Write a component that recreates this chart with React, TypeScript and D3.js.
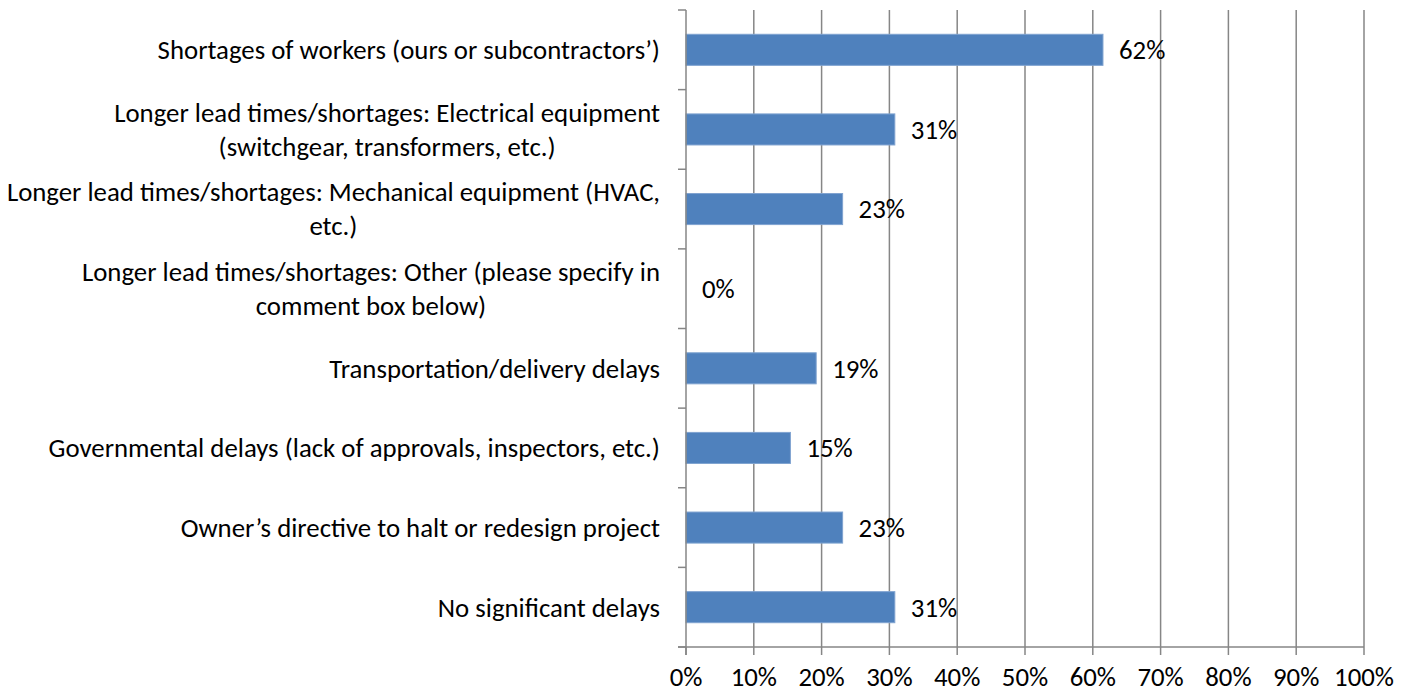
import { useEffect, useRef } from 'react';
import * as d3 from 'd3';

// delay causes (share of respondents, %)
const categories = [
  ['Shortages of workers (ours or subcontractors’)'],
  ['Longer lead times/shortages: Electrical equipment', '(switchgear, transformers, etc.)'],
  ['Longer lead times/shortages: Mechanical equipment (HVAC,', 'etc.)'],
  ['Longer lead times/shortages: Other (please specify in', 'comment box below)'],
  ['Transportation/delivery delays'],
  ['Governmental delays (lack of approvals, inspectors, etc.)'],
  ['Owner’s directive to halt or redesign project'],
  ['No significant delays'],
];
const values = [61.5, 30.8, 23.1, 0, 19.2, 15.4, 23.1, 30.8];
const xTicks = [0, 10, 20, 30, 40, 50, 60, 70, 80, 90, 100];

const WIDTH = 1409;
const HEIGHT = 694;
const FONT = 'Carlito, Calibri, Lato, sans-serif';

export default function App() {
  const svgRef = useRef<SVGSVGElement>(null);

  useEffect(() => {
    if (!svgRef.current) return;
    const svg = d3.select(svgRef.current);
    svg.selectAll('*').remove();

    const left = 686;
    const right = 1364;
    const top = 10;
    const bottom = 647;
    const axisColor = '#868686';
    const fs = 26.8;
    const tick = 8;

    const x = d3.scaleLinear().domain([0, 100]).range([left, right]);
    const y = d3
      .scaleBand<number>()
      .domain(d3.range(categories.length))
      .range([top, bottom])
      .paddingInner(0.61)
      .paddingOuter(0.305);
    const step = (bottom - top) / categories.length;

    // vertical gridlines
    svg
      .append('g')
      .selectAll('line')
      .data(xTicks.filter((d) => d > 0))
      .enter()
      .append('line')
      .attr('x1', (d) => x(d))
      .attr('x2', (d) => x(d))
      .attr('y1', top)
      .attr('y2', bottom)
      .attr('stroke', axisColor)
      .attr('stroke-width', 1.5);

    // bars
    svg
      .append('g')
      .selectAll('rect')
      .data(values)
      .enter()
      .append('rect')
      .attr('x', x(0))
      .attr('y', (_, i) => y(i)!)
      .attr('width', (d) => x(d) - x(0))
      .attr('height', y.bandwidth())
      .attr('fill', '#4F81BD')
      .attr('stroke', '#7FA3D0')
      .attr('stroke-width', (d) => (d > 0 ? 1 : 0));

    // axes
    const axes = svg.append('g').attr('stroke', axisColor).attr('stroke-width', 1.5);
    axes.append('line').attr('x1', left).attr('x2', left).attr('y1', top).attr('y2', bottom + tick);
    axes.append('line').attr('x1', left - tick).attr('x2', right).attr('y1', bottom).attr('y2', bottom);
    axes
      .selectAll('.ytick')
      .data(d3.range(categories.length + 1))
      .enter()
      .append('line')
      .attr('x1', left - tick)
      .attr('x2', left)
      .attr('y1', (i) => top + i * step)
      .attr('y2', (i) => top + i * step);
    axes
      .selectAll('.xtick')
      .data(xTicks)
      .enter()
      .append('line')
      .attr('x1', (d) => x(d))
      .attr('x2', (d) => x(d))
      .attr('y1', bottom)
      .attr('y2', bottom + tick);

    // x tick labels
    svg
      .append('g')
      .selectAll('text')
      .data(xTicks)
      .enter()
      .append('text')
      .attr('x', (d) => x(d))
      .attr('y', 686)
      .attr('text-anchor', 'middle')
      .attr('font-family', FONT)
      .attr('font-size', fs)
      .attr('fill', '#000')
      .text((d) => `${d}%`);

    // category labels
    const lineH = 34;
    const catG = svg.append('g');
    categories.forEach((lines, i) => {
      const cy = y(i)! + y.bandwidth() / 2;
      const g = catG.append('g');
      const texts = lines.map((t, j) =>
        g
          .append('text')
          .attr('y', cy + (j - (lines.length - 1) / 2) * lineH)
          .attr('dy', '0.35em')
          .attr('font-family', FONT)
          .attr('font-size', fs)
          .attr('fill', '#000')
          .text(t)
      );
      const widths = texts.map((t) => (t.node() as SVGTextElement).getComputedTextLength());
      const maxW = d3.max(widths) || 0;
      texts.forEach((t, j) => t.attr('x', 660 - maxW / 2 - widths[j] / 2));
    });

    // data labels
    svg
      .append('g')
      .selectAll('text')
      .data(values)
      .enter()
      .append('text')
      .attr('x', (d) => x(d) + 16)
      .attr('y', (_, i) => y(i)! + y.bandwidth() / 2)
      .attr('dy', '0.35em')
      .attr('font-family', FONT)
      .attr('font-size', fs)
      .attr('fill', '#000')
      .text((d) => `${Math.round(d)}%`);
  }, []);

  return (
    <div style={{ position: 'absolute', left: 0, top: 0 }}>
      <svg ref={svgRef} width={WIDTH} height={HEIGHT} style={{ display: 'block', background: '#fff' }} />
    </div>
  );
}
